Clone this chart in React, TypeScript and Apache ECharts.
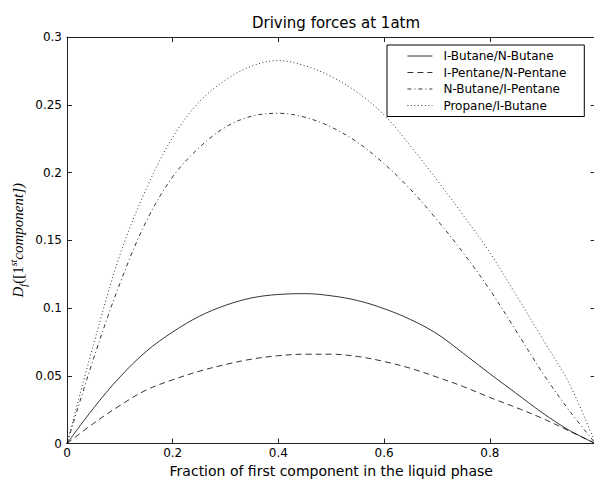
import React, { useEffect, useRef } from "react";
import * as echarts from "echarts";

const xs = [0, 0.05, 0.1, 0.15, 0.2, 0.25, 0.3, 0.35, 0.4, 0.45, 0.5, 0.55, 0.6, 0.65, 0.7, 0.75, 0.8, 0.85, 0.9, 0.95, 1];
const iButaneNButane = [0, 0.026, 0.049, 0.068, 0.0823, 0.0938, 0.102, 0.1075, 0.11, 0.1106, 0.109, 0.1055, 0.0995, 0.0915, 0.081, 0.0665, 0.0515, 0.037, 0.0225, 0.0098, 0];
const iPentaneNPentane = [0, 0.0148, 0.028, 0.0395, 0.047, 0.0533, 0.0583, 0.0623, 0.0648, 0.0659, 0.0659, 0.0642, 0.0605, 0.0555, 0.049, 0.042, 0.034, 0.0265, 0.0185, 0.0093, 0];
const nButaneIPentane = [0, 0.0624, 0.118, 0.164, 0.1968, 0.2183, 0.2335, 0.2416, 0.2437, 0.2408, 0.2335, 0.2222, 0.2065, 0.1875, 0.1651, 0.1405, 0.1135, 0.083, 0.052, 0.0245, 0];
const propaneIButane = [0, 0.0728, 0.139, 0.188, 0.226, 0.252, 0.2683, 0.2786, 0.2826, 0.2788, 0.2708, 0.259, 0.2425, 0.2195, 0.1945, 0.1683, 0.1409, 0.1095, 0.0771, 0.0445, 0];

const seriesNames = ["I-Butane/N-Butane", "I-Pentane/N-Pentane", "N-Butane/I-Pentane", "Propane/I-Butane"];
const xTicks = [0, 0.2, 0.4, 0.6, 0.8, 1];
const yTicks = [0, 0.05, 0.1, 0.15, 0.2, 0.25, 0.3];

const FONT = "DejaVu Sans";
const AX = "#222";

function pairs(ys: number[]) {
  return xs.map((x, i) => [x, ys[i]]);
}

export default function App() {
  const ref = useRef<HTMLDivElement>(null);
  useEffect(() => {
    document.body.style.margin = "0";
    const chart = echarts.init(ref.current!, null, { renderer: "svg" });
    const dashes: any[] = ["solid", [6, 4], [4, 3, 1, 3], [1, 2.5]];
    const datas = [iButaneNButane, iPentaneNPentane, nButaneIPentane, propaneIButane];
    const axisCommon = {
      axisLine: { show: true, onZero: false, lineStyle: { color: AX, width: 1 } },
      axisTick: { show: true, inside: true, length: 5, lineStyle: { color: AX } },
      splitLine: { show: false },
    };
    chart.setOption({
      animation: false,
      backgroundColor: "#fff",
      title: {
        text: "Driving forces at 1atm",
        left: 331,
        top: 10,
        textAlign: "center",
        textStyle: { fontFamily: FONT, fontSize: 15, fontWeight: "normal", color: "#000" },
      },
      legend: {
        orient: "vertical",
        left: 387,
        top: 45,
        padding: [5, 18, 5, 20],
        itemWidth: 25,
        itemHeight: 12,
        itemGap: 4.5,
        borderColor: "#000",
        borderWidth: 1,
        backgroundColor: "#fff",
        data: seriesNames,
        itemStyle: { color: "rgba(0,0,0,0)", borderWidth: 0 },
        lineStyle: { width: 0.8, color: "#000" },
        textStyle: { fontFamily: FONT, fontSize: 12, color: "#000", padding: [0, 0, 0, 6] },
      },
      grid: { left: 67, top: 37, width: 528.5, height: 406.5, containLabel: false, outerBoundsMode: "none" },
      xAxis: [
        {
          type: "value",
          min: 0,
          max: 1,
          interval: 0.2,
          position: "bottom",
          ...axisCommon,
          axisLabel: {
            fontFamily: FONT,
            fontSize: 12,
            color: "#000",
            margin: 3,
            showMaxLabel: false,
            formatter: (v: number) => (xTicks.includes(Math.round(v * 10) / 10) ? String(Math.round(v * 10) / 10) : ""),
          },
          name: "Fraction of first component in the liquid phase",
          nameLocation: "middle",
          nameGap: 20,
          nameTextStyle: { fontFamily: FONT, fontSize: 14, color: "#000" },
        },
        {
          type: "value",
          min: 0,
          max: 1,
          interval: 0.2,
          position: "top",
          ...axisCommon,
          axisLabel: { show: false },
        },
      ],
      yAxis: [
        {
          type: "value",
          min: 0,
          max: 0.3,
          interval: 0.05,
          position: "left",
          ...axisCommon,
          axisLabel: {
            fontFamily: FONT,
            fontSize: 12,
            color: "#000",
            margin: 5,
            formatter: (v: number) => {
              const r = Math.round(v * 100) / 100;
              return yTicks.includes(r) ? String(r) : "";
            },
          },
          name: "{i|D}{sub|f}{n|([1}{sup|st}{i|component])}",
          nameLocation: "middle",
          nameRotate: 90,
          nameGap: 39,
          nameMoveOverlap: false,
          nameTextStyle: {
            color: "#000",
            rich: {
              i: { fontFamily: "Liberation Serif", fontStyle: "italic", fontSize: 15, lineHeight: 20, color: "#000" },
              n: { fontFamily: "Liberation Serif", fontSize: 15, lineHeight: 20, color: "#000" },
              sub: { fontFamily: "Liberation Serif", fontStyle: "italic", fontSize: 10, lineHeight: 11, verticalAlign: "bottom", color: "#000" },
              sup: { fontFamily: "Liberation Serif", fontStyle: "italic", fontSize: 10, lineHeight: 11, verticalAlign: "top", color: "#000" },
            },
          },
        },
        {
          type: "value",
          min: 0,
          max: 0.3,
          interval: 0.05,
          position: "right",
          ...axisCommon,
          axisLabel: { show: false },
        },
      ],
      series: seriesNames.map((name, i) => ({
        name,
        type: "line",
        xAxisIndex: 0,
        yAxisIndex: 0,
        data: pairs(datas[i]),
        smooth: 0.35,
        showSymbol: false,
        symbol: "none",
        lineStyle: { color: "#000", width: 0.8, type: dashes[i] },
        itemStyle: { color: "#000" },
      })),
    });
    return () => chart.dispose();
  }, []);
  return <div ref={ref} style={{ position: "fixed", left: 0, top: 0, width: 594, height: 479 }} />;
}
